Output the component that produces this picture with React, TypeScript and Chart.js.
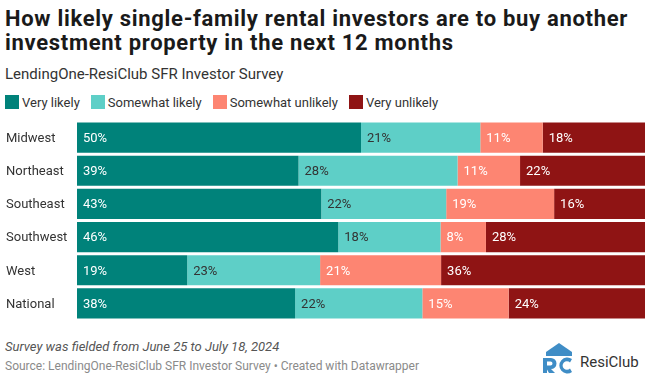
import React, { useEffect, useRef } from "react";
import { Chart, registerables } from "chart.js";

Chart.register(...registerables);

const categories = ["Midwest", "Northeast", "Southeast", "Southwest", "West", "National"];
const seriesNames = ["Very likely", "Somewhat likely", "Somewhat unlikely", "Very unlikely"];
const veryLikely = [50, 39, 43, 46, 19.4, 38.4];
const somewhatLikely = [21, 28, 22, 18, 23.4, 22.4];
const somewhatUnlikely = [11, 11, 19, 8, 21.3, 15.2];
const veryUnlikely = [18, 22, 16, 28, 35.9, 24.0];
const seriesColors = ["#00827a", "#5ecfc7", "#fd8572", "#8f1414"];
const labelColors = ["#ffffff", "#333333", "#ffffff", "#ffffff"];

const FONT = "Roboto, 'Noto Sans', sans-serif";

const labelPlugin = {
  id: "segLabels",
  afterDatasetsDraw(chart: any) {
    const ctx = chart.ctx;
    ctx.save();
    ctx.font = `13px ${FONT}`;
    ctx.textBaseline = "middle";
    ctx.textAlign = "left";
    chart.data.datasets.forEach((ds: any, di: number) => {
      const meta = chart.getDatasetMeta(di);
      meta.data.forEach((bar: any, i: number) => {
        const v = ds.data[i];
        const left = Math.min(bar.x, bar.base);
        ctx.fillStyle = labelColors[di];
        ctx.fillText(`${Math.round(v)}%`, left + 6, bar.y + 1);
      });
    });
    const meta0 = chart.getDatasetMeta(0);
    ctx.fillStyle = "#333333";
    meta0.data.forEach((bar: any, i: number) => {
      ctx.fillText(chart.data.labels[i], 6, bar.y + 1);
    });
    ctx.restore();
  },
};

function BarChart() {
  const ref = useRef<HTMLCanvasElement>(null);
  useEffect(() => {
    if (!ref.current) return;
    const data = [veryLikely, somewhatLikely, somewhatUnlikely, veryUnlikely];
    const chart = new Chart(ref.current, {
      type: "bar",
      data: {
        labels: categories,
        datasets: data.map((d, i) => ({
          label: seriesNames[i],
          data: d,
          backgroundColor: seriesColors[i],
          borderWidth: 0,
          barPercentage: 0.91,
          categoryPercentage: 1,
        })),
      },
      options: {
        indexAxis: "y",
        animation: false,
        responsive: false,
        maintainAspectRatio: false,
        layout: { padding: { left: 7, right: 5, top: 0, bottom: 0 } },
        plugins: { legend: { display: false }, tooltip: { enabled: false } },
        scales: {
          x: { stacked: true, min: 0, max: 100, display: false },
          y: {
            stacked: true,
            grid: { display: false, drawTicks: false },
            border: { display: false },
            ticks: { display: false },
            afterFit(scale: any) {
              scale.width = 70;
            },
          },
        },
      },
      plugins: [labelPlugin],
    } as any);
    return () => chart.destroy();
  }, []);
  return <canvas ref={ref} width={650} height={199} style={{ display: "block", width: 650, height: 199 }} />;
}

export default function App() {
  return (
    <div style={{ position: "absolute", left: 0, top: 0, width: 650, height: 379, background: "#fff", fontFamily: FONT, overflow: "hidden" }}>
      <div style={{ position: "absolute", left: 5, top: 7, fontSize: 22, fontWeight: 700, lineHeight: "24px", letterSpacing: "0.7px", color: "#1a1a1a", whiteSpace: "nowrap" }}>
        How likely single-family rental investors are to buy another<br />investment property in the next 12 months
      </div>
      <div style={{ position: "absolute", left: 5, top: 65, fontSize: 15, color: "#333", whiteSpace: "nowrap" }}>
        LendingOne-ResiClub SFR Investor Survey
      </div>
      <div style={{ position: "absolute", left: 5, top: 95, display: "flex", alignItems: "center", fontSize: 13, color: "#333", height: 14 }}>
        {seriesNames.map((n, i) => (
          <div key={n} style={{ display: "flex", alignItems: "center", marginRight: 11 }}>
            <span style={{ display: "inline-block", width: 14, height: 14, background: seriesColors[i], marginRight: 3 }} />
            <span style={{ whiteSpace: "nowrap" }}>{n}</span>
          </div>
        ))}
      </div>
      <div style={{ position: "absolute", left: 0, top: 121 }}>
        <BarChart />
      </div>
      <div style={{ position: "absolute", left: 5, top: 339, fontSize: 13, fontStyle: "italic", color: "#555", whiteSpace: "nowrap" }}>
        Survey was fielded from June 25 to July 18, 2024
      </div>
      <div style={{ position: "absolute", left: 5, top: 359, fontSize: 12, color: "#8a8a8a", whiteSpace: "nowrap" }}>
        Source: LendingOne-ResiClub SFR Investor Survey • Created with Datawrapper
      </div>
      <svg style={{ position: "absolute", left: 542, top: 342 }} width="32" height="32" viewBox="0 0 32 32">
        <polygon points="17,1 30,10 30,14 4,14 4,10" fill="#3f8dc6" />
        <path d="M1 16 H9 A5.5 5.5 0 0 1 9 27 L13 31 H7 L5 27.5 V31 H1 Z M5 19.5 V23.5 H8.5 A2 2 0 0 0 8.5 19.5 Z" fill="#3f8dc6" fillRule="evenodd" />
        <path d="M30 17 A8 8 0 1 0 30 30 L28 26.5 A4.3 4.3 0 1 1 28 20.5 Z" fill="#3f8dc6" />
      </svg>
      <div style={{ position: "absolute", left: 580, top: 353, fontSize: 15, color: "#333", whiteSpace: "nowrap" }}>
        ResiClub
      </div>
    </div>
  );
}
